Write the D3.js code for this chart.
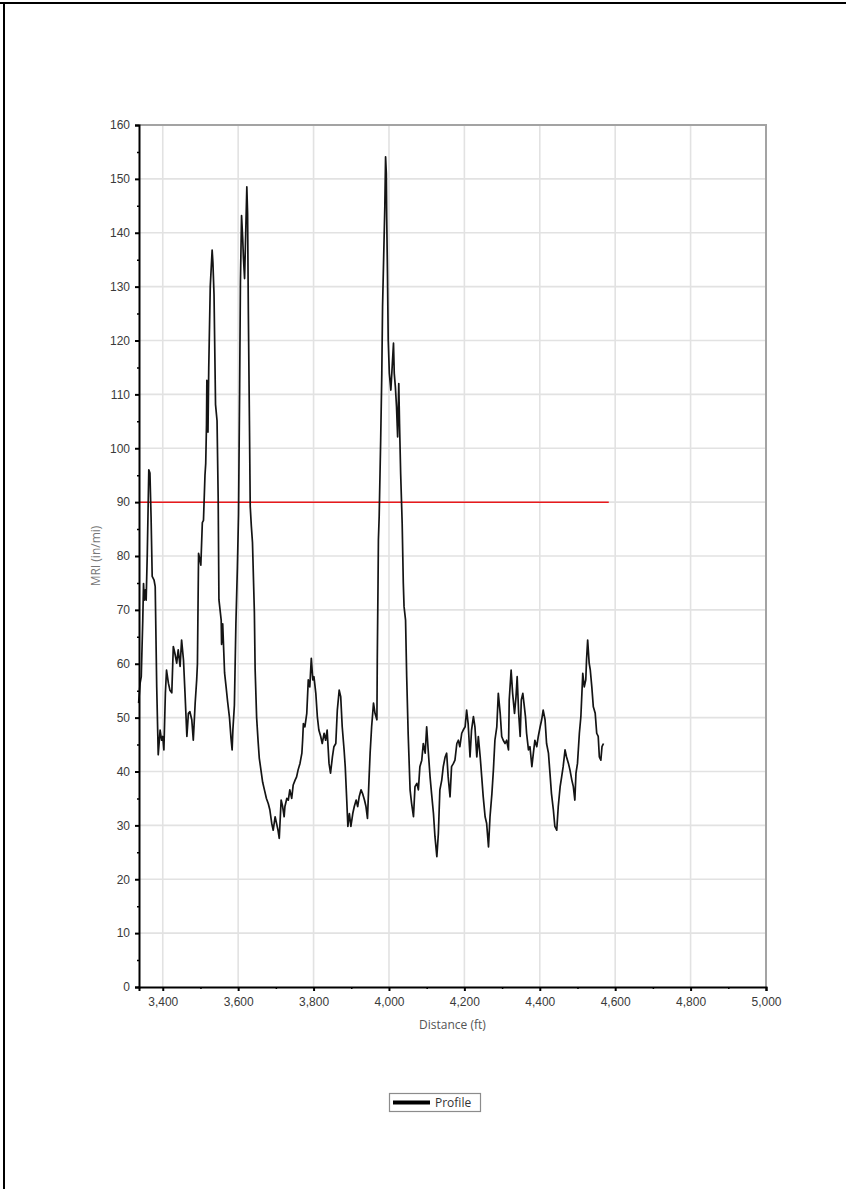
<!DOCTYPE html>
<html lang="en">
<head>
    <meta charset="UTF-8">
    <title>MRI Profile</title>
    <script src="https://d3js.org/d3.v7.min.js"></script>
    <style>
        body { margin: 0; background: #fff; }
        svg { display: block; font-family: "Open Sans", "DejaVu Sans", sans-serif; }
        .tick text { fill: #3a3a3a; font-size: 12px; }
        .label { fill: #555; font-size: 12px; }
    </style>
</head>
<body>
<svg width="846" height="1189"></svg>

<script>

    var distance = [
        3336, 3340, 3343, 3347, 3349, 3351, 3354, 3356, 3359, 3363, 3366, 3369, 3372, 3377, 3380, 3384,
        3388, 3393, 3397, 3400, 3403, 3407, 3410, 3415, 3419, 3424, 3428, 3432, 3437, 3441, 3446, 3450,
        3455, 3459, 3464, 3468, 3472, 3477, 3481, 3486, 3490, 3492, 3495, 3498, 3501, 3505, 3508, 3512,
        3514, 3516, 3517, 3518, 3519, 3520, 3522, 3526, 3531, 3533, 3536, 3540, 3544, 3547, 3549, 3555,
        3556, 3559, 3564, 3568, 3572, 3577, 3581, 3584, 3586, 3590, 3594, 3598, 3601, 3604, 3606, 3609,
        3612, 3614, 3617, 3620, 3623, 3625, 3627, 3630, 3632, 3635, 3638, 3643, 3645, 3649, 3653, 3656,
        3660, 3665, 3670, 3675, 3680, 3684, 3689, 3693, 3698, 3703, 3706, 3709, 3714, 3718, 3722, 3724,
        3729, 3733, 3737, 3742, 3746, 3751, 3755, 3759, 3764, 3769, 3771, 3773, 3777, 3782, 3786, 3790,
        3794, 3798, 3801, 3806, 3810, 3814, 3819, 3823, 3828, 3832, 3836, 3841, 3845, 3850, 3854, 3859,
        3863, 3868, 3872, 3876, 3881, 3884, 3888, 3891, 3895, 3899, 3904, 3908, 3913, 3917, 3921, 3926,
        3930, 3935, 3939, 3943, 3947, 3950, 3954, 3959, 3963, 3968, 3969, 3971, 3972, 3974, 3978, 3981,
        3983, 3987, 3989, 3991, 3993, 3994, 3996, 3998, 4001, 4005, 4008, 4012, 4014, 4017, 4020, 4023,
        4026, 4028, 4031, 4035, 4038, 4040, 4044, 4047, 4051, 4056, 4060, 4065, 4069, 4074, 4078, 4082,
        4087, 4091, 4096, 4100, 4104, 4109, 4113, 4118, 4122, 4127, 4131, 4135, 4140, 4144, 4149, 4153,
        4157, 4162, 4166, 4171, 4175, 4180, 4184, 4188, 4193, 4197, 4202, 4206, 4210, 4215, 4219, 4224,
        4228, 4233, 4237, 4242, 4246, 4250, 4255, 4259, 4264, 4268, 4273, 4277, 4281, 4286, 4290, 4295,
        4299, 4303, 4308, 4312, 4317, 4319, 4324, 4328, 4333, 4337, 4340, 4344, 4348, 4351, 4355, 4358,
        4362, 4365, 4370, 4374, 4379, 4383, 4387, 4392, 4396, 4401, 4405, 4409, 4414, 4418, 4423, 4427,
        4431, 4436, 4440, 4445, 4449, 4454, 4458, 4462, 4467, 4471, 4476, 4480, 4485, 4489, 4493, 4496,
        4500, 4505, 4509, 4514, 4518, 4522, 4524, 4527, 4531, 4534, 4538, 4542, 4547, 4551, 4555, 4558,
        4562, 4565, 4569
    ]

    var mri = [
        52.7, 56.4, 57.6, 68.1, 74.9, 71.8, 73.7, 71.8, 80.5, 96.0, 95.4, 87.3, 76.2, 75.5, 74.3, 55.7,
        43.1, 47.7, 45.8, 46.5, 44.0, 54.6, 58.8, 56.4, 55.1, 54.6, 63.2, 62.0, 60.1, 62.6, 59.5, 64.4,
        60.7, 54.6, 46.5, 50.8, 51.1, 49.6, 45.8, 52.7, 57.0, 60.0, 80.5, 79.5, 78.3, 86.2, 86.6, 95.0,
        97.2, 104.3, 112.6, 106.0, 111.9, 103.0, 114.9, 130.0, 136.8, 134.5, 128.5, 108.1, 105.1, 90.8, 71.9, 68.1,
        63.6, 67.4, 58.3, 55.7, 53.0, 50.0, 46.2, 44.0, 47.7, 52.3, 67.4, 78.0, 87.7, 111.9, 130.8, 143.2,
        139.0, 135.3, 131.5, 139.8, 148.5, 143.6, 125.5, 104.3, 89.2, 85.5, 82.5, 69.6, 59.0, 50.0, 45.5, 42.5,
        40.5, 38.0, 36.5, 35.0, 34.0, 32.9, 30.4, 29.1, 31.6, 30.0, 29.0, 27.6, 34.7, 33.5, 31.6, 33.5,
        35.0, 34.7, 36.6, 35.0, 37.5, 38.4, 39.0, 40.3, 41.5, 43.4, 45.8, 48.9, 48.3, 50.8, 57.0, 55.7,
        61.0, 57.0, 57.6, 54.5, 50.2, 47.7, 46.5, 45.2, 47.1, 45.8, 47.7, 41.5, 39.7, 42.7, 44.6, 45.2,
        51.4, 55.1, 53.9, 48.3, 44.0, 40.9, 34.7, 29.8, 32.2, 29.8, 32.2, 33.5, 34.7, 33.5, 35.3, 36.6,
        35.9, 34.7, 33.5, 31.3, 38.4, 43.4, 48.3, 52.7, 50.8, 49.6, 60.7, 75.0, 83.0, 87.3, 101.5, 113.9,
        126.3, 138.7, 144.8, 154.1, 151.0, 143.0, 132.5, 120.1, 113.9, 110.8, 114.5, 119.5, 113.9, 111.4, 107.7, 102.1,
        112.0, 104.6, 95.3, 86.1, 75.0, 70.6, 68.1, 57.6, 46.8, 36.6, 34.1, 31.6, 37.2, 37.8, 36.6, 40.9,
        42.1, 45.2, 43.4, 48.3, 44.0, 39.0, 35.9, 32.2, 27.9, 24.2, 28.5, 36.6, 38.4, 40.9, 42.7, 43.4,
        39.0, 35.3, 40.9, 41.5, 42.1, 45.2, 45.8, 44.6, 47.1, 47.7, 48.3, 51.4, 48.9, 42.7, 47.7, 50.2,
        48.3, 42.7, 46.5, 42.7, 39.0, 35.3, 31.6, 30.4, 26.0, 31.6, 35.9, 40.3, 45.8, 48.3, 54.5, 50.8,
        46.5, 45.8, 45.2, 45.8, 44.0, 53.3, 58.8, 54.5, 50.8, 53.9, 57.6, 50.8, 46.5, 53.3, 54.5, 52.7,
        50.2, 47.1, 44.0, 44.6, 40.9, 43.4, 45.8, 44.6, 46.5, 48.3, 49.6, 51.4, 49.6, 45.2, 43.4, 39.7,
        35.9, 32.9, 29.8, 29.1, 33.5, 37.2, 39.0, 40.9, 44.0, 42.7, 41.5, 40.3, 38.4, 37.2, 34.7, 39.7,
        41.5, 47.1, 50.2, 58.2, 55.7, 57.0, 60.7, 64.4, 60.1, 58.8, 55.7, 52.0, 50.8, 47.1, 46.5, 42.7,
        42.1, 44.6, 45.2
    ]

    var threshold = 90
    var thresholdRange = [3337, 4583]

    var xTicks = [3400, 3600, 3800, 4000, 4200, 4400, 4600, 4800, 5000]
    var xMinorTicks = [3500, 3700, 3900, 4100, 4300, 4500, 4700, 4900]
    var yTicks = [0, 10, 20, 30, 40, 50, 60, 70, 80, 90, 100, 110, 120, 130, 140, 150, 160]
    var yMinorTicks = [5, 15, 25, 35, 45, 55, 65, 75, 85, 95, 105, 115, 125, 135, 145, 155]

    var seriesName = 'Profile'
    var xTitle = 'Distance (ft)'
    var yTitle = 'MRI (in/mi)'

    var plot = { left: 139, top: 125, right: 766, bottom: 987 }

    var svg = d3.select('svg')

    // page border (top and left edges only visible)
    svg.append('line')
        .attr('x1', 0).attr('x2', 846).attr('y1', 3).attr('y2', 3)
        .attr('stroke', '#000').attr('stroke-width', 2)
    svg.append('line')
        .attr('x1', 4).attr('x2', 4).attr('y1', 2).attr('y2', 1189)
        .attr('stroke', '#000').attr('stroke-width', 2)

    var x = d3.scaleLinear()
        .domain([3337, 5000])
        .range([plot.left, plot.right])

    var y = d3.scaleLinear()
        .domain([0, 160])
        .range([plot.bottom, plot.top])

    // grid
    svg.append('g')
        .selectAll('line')
        .data(xTicks)
        .join('line')
        .attr('x1', d => x(d)).attr('x2', d => x(d))
        .attr('y1', plot.top).attr('y2', plot.bottom)
        .attr('stroke', '#e2e2e2').attr('stroke-width', 1.6)

    svg.append('g')
        .selectAll('line')
        .data(yTicks.slice(1))
        .join('line')
        .attr('x1', plot.left).attr('x2', plot.right)
        .attr('y1', d => y(d)).attr('y2', d => y(d))
        .attr('stroke', '#e2e2e2').attr('stroke-width', 1.6)

    // top and right frame
    svg.append('path')
        .attr('d', `M${plot.left},${plot.top}H${plot.right}V${plot.bottom}`)
        .attr('fill', 'none')
        .attr('stroke', '#a3a3a3')
        .attr('stroke-width', 2)

    // threshold
    svg.append('line')
        .attr('x1', x(thresholdRange[0])).attr('x2', x(thresholdRange[1]))
        .attr('y1', y(threshold)).attr('y2', y(threshold))
        .attr('stroke', '#e8191c').attr('stroke-width', 1.5)

    var points = distance.map((d, i) => [d, mri[i]])

    var line = d3.line()
        .x(d => x(d[0]))
        .y(d => y(d[1]))

    svg.append('path')
        .datum(points)
        .attr('d', line)
        .attr('fill', 'none')
        .attr('stroke', '#141414')
        .attr('stroke-width', 1.7)
        .attr('stroke-linejoin', 'round')

    // axes
    var yAxis = svg.append('g')
        .attr('transform', `translate(${plot.left},0)`)
        .call(d3.axisLeft(y).tickValues(yTicks).tickSize(4).tickPadding(5))
    yAxis.select('.domain').attr('stroke', '#000').attr('stroke-width', 2)
    yAxis.selectAll('.tick line').attr('stroke-width', 2)

    svg.append('g')
        .attr('transform', `translate(${plot.left},0)`)
        .call(d3.axisLeft(y).tickValues(yMinorTicks).tickSize(2).tickFormat(''))
        .call(g => g.select('.domain').remove())
        .selectAll('.tick line').attr('stroke-width', 1.5)

    var xAxis = svg.append('g')
        .attr('transform', `translate(0,${plot.bottom})`)
        .call(d3.axisBottom(x).tickValues(xTicks).tickSize(4).tickPadding(6).tickFormat(d3.format(',')))
    xAxis.select('.domain').attr('stroke', '#000').attr('stroke-width', 2)
    xAxis.selectAll('.tick line').attr('stroke-width', 2)

    svg.append('g')
        .attr('transform', `translate(0,${plot.bottom})`)
        .call(d3.axisBottom(x).tickValues(xMinorTicks).tickSize(2).tickFormat(''))
        .call(g => g.select('.domain').remove())
        .selectAll('.tick line').attr('stroke-width', 1.5)

    svg.selectAll('.tick text').attr('font-family', null).attr('font-size', null)

    // titles
    svg.append('text')
        .attr('class', 'label')
        .attr('text-anchor', 'middle')
        .attr('transform', `translate(96,${(plot.top + plot.bottom) / 2}) rotate(-90)`)
        .attr('dy', '0.35em')
        .style('fill', '#777')
        .text(yTitle)

    svg.append('text')
        .attr('class', 'label')
        .attr('text-anchor', 'middle')
        .attr('x', (plot.left + plot.right) / 2)
        .attr('y', 1029)
        .text(xTitle)

    // legend
    var legend = svg.append('g').attr('transform', 'translate(389,1093)')
    legend.append('rect')
        .attr('x', 0.5).attr('y', 0.5)
        .attr('width', 91).attr('height', 18)
        .attr('fill', '#fff')
        .attr('stroke', '#8c8c8c')
        .attr('stroke-width', 1.2)
    legend.append('line')
        .attr('x1', 4).attr('x2', 41)
        .attr('y1', 9.5).attr('y2', 9.5)
        .attr('stroke', '#000').attr('stroke-width', 4)
    legend.append('text')
        .attr('x', 46).attr('y', 14)
        .attr('fill', '#333')
        .attr('font-size', 12)
        .text(seriesName)

</script>
</html>
